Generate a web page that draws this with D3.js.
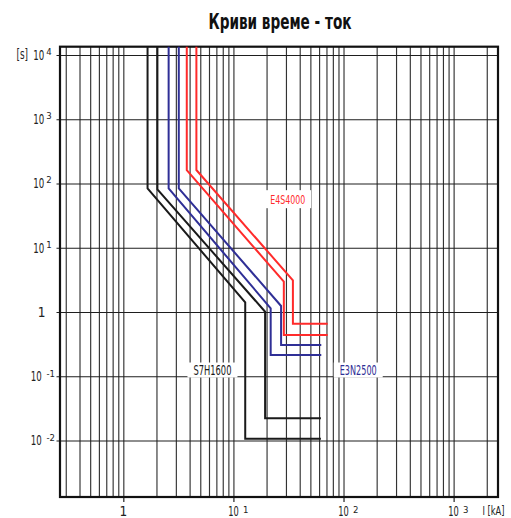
<!DOCTYPE html>
<html>
<head>
<meta charset="utf-8">
<script src="https://cdn.jsdelivr.net/npm/d3@7"></script>
<style>
    body { margin: 0; background: #fff; }
    svg { display: block; font-family: "Liberation Sans Narrow", "DejaVu Sans Condensed", "Liberation Sans", sans-serif; }
</style>
</head>
<body>
<svg></svg>
<script>
const title = 'Криви време - ток';
const xAxisTitle = 'I [kA]';
const yAxisTitle = '[s]';

// decade ticks of both log axes
const xDecades = [1, 10, 100, 1000];
const xTickBase = ['1', '10', '10', '10'];
const xTickExp = ['', '1', '2', '3'];

const yDecades = [1e4, 1e3, 1e2, 1e1, 1, 1e-1, 1e-2];
const yTickBase = ['10', '10', '10', '10', '1', '10', '10'];
const yTickExp = ['4', '3', '2', '1', '', '-1', '-2'];

// trip curves, [current kA, time s], min and max band of each breaker
const s7h1600Min = [[1.66, 13460], [1.66, 84], [12.8, 1.41], [12.8, 0.0106], [62.3, 0.0106]];
const s7h1600Max = [[2.04, 13460], [2.04, 81], [19.4, 1.01], [19.4, 0.0222], [62.3, 0.0222]];
const e3n2500Min = [[2.58, 13460], [2.58, 84], [21.8, 1.14], [21.8, 0.214], [62.8, 0.214]];
const e3n2500Max = [[3.19, 13460], [3.19, 84], [27.1, 1.24], [27.1, 0.306], [62.8, 0.306]];
const e4s4000Min = [[3.77, 13460], [3.77, 162], [28.7, 2.96], [28.7, 0.438], [71.8, 0.438]];
const e4s4000Max = [[4.61, 13460], [4.61, 162], [34.7, 3.11], [34.7, 0.658], [71.8, 0.658]];

const breakerNames = ['S7H1600', 'E3N2500', 'E4S4000'];
const labelCurrent = [6.45, 136, 31.1];
const labelTime = [0.125, 0.125, 57];

const width = 511;
const height = 518;
const plotLeft = 60;
const plotRight = 498;
const plotTop = 46.7;
const plotBottom = 497;

const colors = ['#1a1a1a', '#2f2f96', '#ff2b2b'];
const labelWidths = [38, 37, 35];

let svg = d3.select('svg');
let xScale = undefined;
let yScale = undefined;

let drawCanvas = () => {
    svg.attr('width', width)
    svg.attr('height', height)
}

let generateScales = () => {
    xScale = d3.scaleLog()
        .domain([0.266, 2530])
        .range([plotLeft, plotRight])

    yScale = d3.scaleLog()
        .domain([0.00132, 13460])
        .range([plotBottom, plotTop])
}

let drawGrid = () => {
    // vertical lines at every 1..9 x 10^n
    svg.append('g')
        .attr('transform', 'translate(0,' + plotBottom + ')')
        .call(d3.axisBottom(xScale).tickValues(xScale.ticks()).tickSize(-(plotBottom - plotTop)).tickFormat(''))
        .call(g => g.select('.domain').remove())
        .selectAll('line')
        .attr('stroke', '#333')
        .attr('stroke-width', 1.15)

    // decade ticks below the frame
    svg.append('g')
        .attr('transform', 'translate(0,' + plotBottom + ')')
        .call(d3.axisBottom(xScale).tickValues(xDecades).tickSize(5).tickFormat(''))
        .call(g => g.select('.domain').remove())
        .selectAll('line')
        .attr('stroke', '#222')
        .attr('stroke-width', 1.2)

    // horizontal lines at decades, sticking out left of the frame
    svg.append('g')
        .attr('transform', 'translate(' + (plotLeft - 3.5) + ',0)')
        .call(d3.axisLeft(yScale).tickValues(yDecades).tickSize(-(plotRight - plotLeft + 3.5)).tickFormat(''))
        .call(g => g.select('.domain').remove())
        .selectAll('line')
        .attr('stroke', '#1e1e1e')
        .attr('stroke-width', 1.2)

    svg.append('rect')
        .attr('x', plotLeft)
        .attr('y', plotTop)
        .attr('width', plotRight - plotLeft)
        .attr('height', plotBottom - plotTop)
        .attr('fill', 'none')
        .attr('stroke', '#111')
        .attr('stroke-width', 2.2)
}

let drawCurves = () => {
    let line = d3.line()
        .x(d => xScale(d[0]))
        .y(d => yScale(d[1]))

    let curves = [
        [s7h1600Min, 0], [s7h1600Max, 0],
        [e3n2500Min, 1], [e3n2500Max, 1],
        [e4s4000Min, 2], [e4s4000Max, 2]
    ];

    svg.append('g')
        .selectAll('path')
        .data(curves)
        .enter()
        .append('path')
        .attr('d', d => line(d[0]))
        .attr('fill', 'none')
        .attr('stroke', d => colors[d[1]])
        .attr('stroke-width', 2)
        .attr('stroke-linejoin', 'miter')
}

let drawLabels = () => {
    let labels = svg.append('g')
        .selectAll('g')
        .data(breakerNames)
        .enter()
        .append('g')
        .attr('transform', (d, i) => 'translate(' + xScale(labelCurrent[i]) + ',' + yScale(labelTime[i]) + ')')

    labels.append('rect')
        .attr('x', (d, i) => -labelWidths[i] / 2 - 6)
        .attr('y', (d, i) => i == 2 ? -9 : -7.5)
        .attr('width', (d, i) => labelWidths[i] + 12)
        .attr('height', (d, i) => i == 2 ? 18 : 15)
        .attr('fill', '#fff')

    labels.append('text')
        .attr('text-anchor', 'middle')
        .attr('y', (d, i) => i == 2 ? 4.5 : 5)
        .attr('font-size', (d, i) => i == 2 ? 12.5 : 13.8)
        .attr('textLength', (d, i) => labelWidths[i])
        .attr('lengthAdjust', 'spacingAndGlyphs')
        .attr('fill', (d, i) => colors[i])
        .text(d => d)
}

let drawAxisText = () => {
    // y decade labels: base number squeezed to the narrow look, then a raised exponent
    let yLabels = svg.append('g')
        .selectAll('g')
        .data(yDecades)
        .enter()
        .append('g')
        .attr('transform', d => 'translate(0,' + yScale(d) + ')')

    yLabels.append('text')
        .attr('text-anchor', 'end')
        .attr('font-size', 13.5)
        .attr('fill', '#222')
        .text((d, i) => yTickBase[i])
        .attr('transform', function (d, i) {
            let endX = yTickExp[i] == '' ? 45.5 : (yTickExp[i][0] == '-' ? 41.8 : 44.3);
            let squeeze = yTickExp[i] == '' ? 1 : 11 / this.getComputedTextLength();
            return 'translate(' + endX + ',5) scale(' + squeeze + ',1)';
        })

    yLabels.append('text')
        .attr('x', (d, i) => yTickExp[i][0] == '-' ? 46.5 : 46.2)
        .attr('y', (d, i) => yTickExp[i][0] == '-' ? 1 : 0)
        .attr('font-size', 9.5)
        .attr('fill', '#222')
        .text((d, i) => yTickExp[i])

    svg.append('text')
        .attr('x', 16.5)
        .attr('y', yScale(1e4) + 4.5)
        .attr('font-size', 13.5)
        .attr('textLength', 11.5)
        .attr('lengthAdjust', 'spacingAndGlyphs')
        .attr('fill', '#222')
        .text(yAxisTitle)

    // x decade labels
    svg.append('g')
        .selectAll('text')
        .data(xDecades)
        .enter()
        .append('text')
        .attr('x', d => xScale(d))
        .attr('y', 516)
        .attr('text-anchor', 'middle')
        .attr('font-size', 13.5)
        .attr('textLength', (d, i) => i == 0 ? null : 10.5)
        .attr('lengthAdjust', 'spacingAndGlyphs')
        .attr('fill', '#222')
        .text((d, i) => xTickBase[i])

    svg.append('g')
        .selectAll('text')
        .data(xDecades)
        .enter()
        .append('text')
        .attr('x', d => xScale(d) + 9.5)
        .attr('y', 512.5)
        .attr('font-size', 9.5)
        .attr('fill', '#222')
        .text((d, i) => xTickExp[i])

    svg.append('text')
        .attr('x', 482.5)
        .attr('y', 515)
        .attr('font-size', 12.5)
        .attr('textLength', 22)
        .attr('lengthAdjust', 'spacingAndGlyphs')
        .attr('fill', '#222')
        .text(xAxisTitle)

    svg.append('text')
        .attr('x', 280)
        .attr('y', 29.3)
        .attr('text-anchor', 'middle')
        .attr('font-size', 20.5)
        .attr('font-weight', 'bold')
        .attr('textLength', 143)
        .attr('lengthAdjust', 'spacingAndGlyphs')
        .attr('fill', '#111')
        .text(title)
}

drawCanvas();
generateScales();
drawGrid();
drawCurves();
drawLabels();
drawAxisText();
</script>
</body>
</html>
